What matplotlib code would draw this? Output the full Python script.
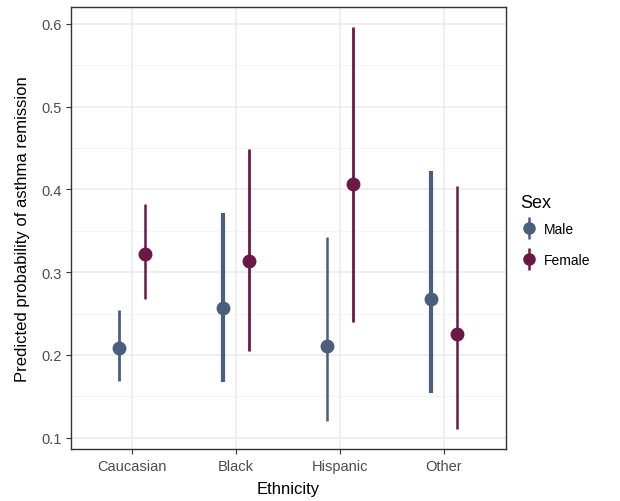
import numpy as np
import matplotlib.pyplot as plt
from matplotlib.lines import Line2D
from matplotlib.legend_handler import HandlerTuple

plt.rcParams['font.family'] = ['Liberation Sans', 'DejaVu Sans']

# Data
ethnicity = ['Caucasian', 'Black', 'Hispanic', 'Other']
male_est = [0.208, 0.257, 0.211, 0.268]
male_low = [0.168, 0.167, 0.120, 0.154]
male_high = [0.254, 0.372, 0.343, 0.422]
female_est = [0.322, 0.314, 0.407, 0.225]
female_low = [0.267, 0.205, 0.240, 0.111]
female_high = [0.383, 0.449, 0.596, 0.404]
y_ticks = [0.1, 0.2, 0.3, 0.4, 0.5, 0.6]

male_color = '#4a5e7e'
female_color = '#6b1846'
male_lw = [2.0, 3.0, 1.8, 3.0]
female_lw = [1.8, 2.0, 2.0, 1.8]

fig = plt.figure(figsize=(6.2, 5.02), dpi=100)
ax = fig.add_axes([0.1145, 0.104, 0.7015, 0.880])

x = np.arange(len(ethnicity))
dodge = 0.125

for i in range(len(ethnicity)):
    ax.vlines(x[i] - dodge, male_low[i], male_high[i], color=male_color, lw=male_lw[i], zorder=3)
    ax.vlines(x[i] + dodge, female_low[i], female_high[i], color=female_color, lw=female_lw[i], zorder=3)
ax.plot(x - dodge, male_est, 'o', color=male_color, ms=9, zorder=4)
ax.plot(x + dodge, female_est, 'o', color=female_color, ms=9, zorder=4)

# legend keys: point with a vertical line through it
def key(c):
    bar = Line2D([], [], marker='|', color=c, ms=16, mew=1.8, ls='none')
    dot = Line2D([], [], marker='o', color=c, ms=8, ls='none')
    return (bar, dot)

leg = ax.legend([key(male_color), key(female_color)], ['Male', 'Female'], title='Sex',
                handler_map={tuple: HandlerTuple(ndivide=1)},
                loc='upper left', bbox_to_anchor=(1.02, 0.59),
                frameon=False, fontsize=10, title_fontsize=13, handlelength=1.2,
                labelspacing=1.25, handletextpad=0.5, borderaxespad=0)
leg._legend_box.align = 'left'
leg._legend_box.sep = 8

ax.set_xlim(-0.59, 3.6)
ax.set_ylim(0.0865, 0.6205)
ax.set_xticks(x)
ax.set_xticklabels(ethnicity)
ax.set_yticks(y_ticks)
ax.set_yticks([0.15, 0.25, 0.35, 0.45, 0.55], minor=True)
ax.grid(True, which='major', color='#ebebeb', lw=1.1, zorder=0)
ax.grid(True, which='minor', axis='y', color='#f2f2f2', lw=0.6, zorder=0)
ax.set_axisbelow(True)
ax.tick_params(which='major', length=3.5, color='#333333', labelcolor='#4d4d4d', labelsize=10.5)
ax.tick_params(which='minor', length=0)
for s in ax.spines.values():
    s.set_color('#333333')
    s.set_linewidth(1.0)

ax.set_xlabel('Ethnicity', fontsize=12, labelpad=6)
ax.set_ylabel('Predicted probability of asthma remission', fontsize=12, labelpad=8)

fig.savefig('out.png', dpi=100)
